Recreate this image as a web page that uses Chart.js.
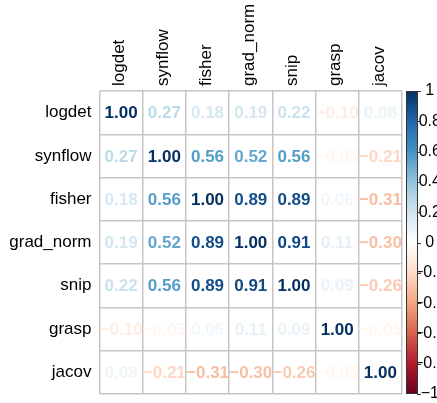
<!DOCTYPE html>
<html lang="en">
<head>
    <meta charset="UTF-8">
    <title>Correlation matrix</title>
    <script src="https://cdn.jsdelivr.net/npm/chart.js@4.4.1/dist/chart.umd.min.js"></script>
    <style>
        html, body { margin: 0; padding: 0; background: #fff; }
        #wrap { width: 437px; height: 403px; }
    </style>
</head>
<body>
<div id="wrap"><canvas id="corr"></canvas></div>

<script>
    // metric names (rows and columns)
    const metrics = ['logdet', 'synflow', 'fisher', 'grad_norm', 'snip', 'grasp', 'jacov'];

    // one array per row of the matrix
    const logdet   = [1.00, 0.27, 0.18, 0.19, 0.22, -0.10, 0.08];
    const synflow  = [0.27, 1.00, 0.56, 0.52, 0.56, -0.05, -0.21];
    const fisher   = [0.18, 0.56, 1.00, 0.89, 0.89, 0.06, -0.31];
    const gradNorm = [0.19, 0.52, 0.89, 1.00, 0.91, 0.11, -0.30];
    const snip     = [0.22, 0.56, 0.89, 0.91, 1.00, 0.09, -0.26];
    const grasp    = [-0.10, -0.05, 0.06, 0.11, 0.09, 1.00, -0.05];
    const jacov    = [0.08, -0.21, -0.31, -0.30, -0.26, -0.05, 1.00];
    const rows = [logdet, synflow, fisher, gradNorm, snip, grasp, jacov];

    // colour bar ticks
    const cbMin = -1, cbMax = 1, cbStep = 0.2;

    // RdBu palette, from -1 up to 1
    const palette = ['#67001F', '#B2182B', '#D6604D', '#F4A582', '#FDDBC7', '#FFFFFF',
                     '#D1E5F0', '#92C5DE', '#4393C3', '#2166AC', '#053061'];

    function hexRgb(h) {
        return [parseInt(h.slice(1, 3), 16), parseInt(h.slice(3, 5), 16), parseInt(h.slice(5, 7), 16)];
    }

    function colorFor(v) {
        const t = (Math.max(-1, Math.min(1, v)) + 1) / 2 * (palette.length - 1);
        const i = Math.min(Math.floor(t), palette.length - 2);
        const f = t - i;
        const a = hexRgb(palette[i]), b = hexRgb(palette[i + 1]);
        const c = a.map((x, k) => Math.round(x + (b[k] - x) * f));
        return `rgb(${c[0]},${c[1]},${c[2]})`;
    }

    function fmt(v, d) {
        return v.toFixed(d).replace('-', '\u2212');
    }

    // no extra room for half-labels at the axis ends
    function noPad(s) {
        s.paddingTop = 0; s.paddingBottom = 0; s.paddingLeft = 0; s.paddingRight = 0;
    }

    const points = [];
    rows.forEach((row, r) => {
        row.forEach((v, c) => points.push({ x: metrics[c], y: metrics[r], v: v }));
    });

    const gridColor = '#C6C6C6';
    const FONT = 'Liberation Sans, Arial, sans-serif';

    // numbers in the cells
    const cellText = {
        id: 'cellText',
        afterDatasetsDraw(chart) {
            const ctx = chart.ctx;
            const meta = chart.getDatasetMeta(0);
            ctx.save();
            ctx.font = 'bold 17px ' + FONT;
            ctx.textAlign = 'center';
            ctx.textBaseline = 'middle';
            meta.data.forEach((el, i) => {
                const v = points[i].v;
                ctx.fillStyle = colorFor(v);
                ctx.fillText(fmt(v, 2), el.x, el.y + 1);
            });
            ctx.restore();
        }
    };

    // colour legend on the right
    const colorBar = {
        id: 'colorBar',
        afterDraw(chart) {
            const ctx = chart.ctx;
            const s = chart.scales.cb;
            const top = s.getPixelForValue(cbMax);
            const bottom = s.getPixelForValue(cbMin);
            const left = s.left + 4, right = s.left + 16;
            const g = ctx.createLinearGradient(0, bottom, 0, top);
            palette.forEach((c, i) => g.addColorStop(i / (palette.length - 1), c));
            ctx.save();
            ctx.fillStyle = g;
            ctx.fillRect(left, top, right - left, bottom - top);
            ctx.strokeStyle = '#333';
            ctx.lineWidth = 1;
            ctx.strokeRect(left + 0.5, top + 0.5, right - left - 1, bottom - top - 1);
            ctx.beginPath();
            s.ticks.forEach(t => {
                const y = Math.round(s.getPixelForValue(t.value)) + 0.5;
                ctx.moveTo(right - 1, y);
                ctx.lineTo(right + 3, y);
            });
            ctx.stroke();
            ctx.restore();
        }
    };

    new Chart(document.getElementById('corr'), {
        type: 'scatter',
        data: {
            datasets: [{
                data: points,
                pointRadius: 0,
                pointHoverRadius: 0
            }]
        },
        options: {
            responsive: true,
            maintainAspectRatio: false,
            animation: false,
            events: [],
            layout: { padding: { top: 0, left: 0, right: 0, bottom: 9 } },
            plugins: { legend: { display: false }, tooltip: { enabled: false } },
            scales: {
                x: {
                    type: 'category',
                    labels: metrics,
                    position: 'top',
                    offset: true,
                    grid: { offset: true, color: gridColor, lineWidth: 1.5, drawTicks: false },
                    border: { display: false },
                    ticks: {
                        minRotation: 90, maxRotation: 90, padding: 5, labelOffset: 19,
                        color: '#000', font: { family: FONT, size: 17 }
                    },
                    afterFit(s) { s.height = 91; noPad(s); }
                },
                y: {
                    type: 'category',
                    labels: metrics,
                    offset: true,
                    grid: { offset: true, color: gridColor, lineWidth: 1.5, drawTicks: false },
                    border: { display: false },
                    ticks: { padding: 8, color: '#000', font: { family: FONT, size: 17 } },
                    afterFit(s) { s.width = 99.5; noPad(s); }
                },
                cb: {
                    type: 'linear',
                    position: 'right',
                    min: cbMin,
                    max: cbMax,
                    grid: { drawOnChartArea: false, drawTicks: false },
                    border: { display: false },
                    ticks: {
                        stepSize: cbStep,
                        crossAlign: 'center',
                        padding: 12,
                        color: '#000',
                        font: { family: FONT, size: 16 },
                        callback: v => fmt(Math.round(v * 10) / 10, Math.round(v * 10) % 10 === 0 ? 0 : 1)
                    },
                    afterFit(s) { s.width = 35; noPad(s); }
                }
            }
        },
        plugins: [cellText, colorBar]
    });
</script>
</body>
</html>
